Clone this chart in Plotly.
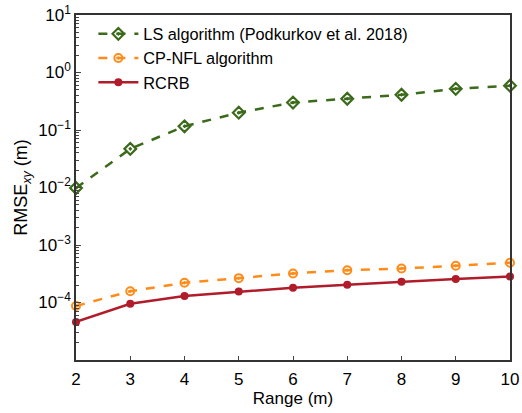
import plotly.graph_objects as go

ranges = [2, 3, 4, 5, 6, 7, 8, 9, 10]
ls_alg = [0.0098, 0.047, 0.116, 0.20, 0.30, 0.35, 0.41, 0.52, 0.59]
cp_nfl = [8.7e-5, 1.57e-4, 2.2e-4, 2.65e-4, 3.2e-4, 3.65e-4, 3.9e-4, 4.35e-4, 4.9e-4]
rcrb = [4.6e-5, 9.5e-5, 1.3e-4, 1.55e-4, 1.8e-4, 2.03e-4, 2.3e-4, 2.55e-4, 2.84e-4]

ytick_vals = [1e-4, 1e-3, 1e-2, 1e-1, 1e0, 1e1]
ytick_text = ["10<sup>−4</sup>", "10<sup>−3</sup>", "10<sup>−2</sup>",
              "10<sup>−1</sup>", "10<sup>0</sup>", "10<sup>1</sup>"]

green = "#3b6a1a"
orange = "#ff8c1a"
red = "#b01c2a"

fig = go.Figure()
fig.add_trace(go.Scatter(
    x=ranges, y=ls_alg, name="LS algorithm (Podkurkov et al. 2018)",
    mode="lines+markers", cliponaxis=False,
    line=dict(color=green, width=2.5, dash="dash"),
    marker=dict(symbol="diamond-open-dot", size=9, color=green, line=dict(width=2.2, color=green)),
))
fig.add_trace(go.Scatter(
    x=ranges, y=cp_nfl, name="CP-NFL algorithm",
    mode="lines+markers", cliponaxis=False,
    line=dict(color=orange, width=2.5, dash="dash"),
    marker=dict(symbol="circle-open-dot", size=8, color=orange, line=dict(width=2, color=orange)),
))
fig.add_trace(go.Scatter(
    x=ranges, y=rcrb, name="RCRB",
    mode="lines+markers", cliponaxis=False,
    line=dict(color=red, width=2.5),
    marker=dict(symbol="circle", size=8, color=red),
))

minor_vals = []
for e in range(-5, 1):
    for m in range(2, 10):
        minor_vals.append(m * 10 ** e)

fig.update_layout(
    width=522, height=413,
    margin=dict(l=76, r=12, t=15, b=53),
    paper_bgcolor="white", plot_bgcolor="white",
    font=dict(family="Liberation Sans, Arial, sans-serif", size=16, color="black"),
    showlegend=True,
    legend=dict(x=0.04, y=0.995, xanchor="left", yanchor="top",
                bgcolor="rgba(0,0,0,0)", font=dict(size=16.3),
                itemwidth=40, tracegroupgap=0),
    xaxis=dict(
        range=[2, 10], tickvals=ranges, ticks="inside", ticklen=4,
        showline=True, linecolor="#333", linewidth=1.5, mirror=True,
        showgrid=False, zeroline=False, automargin=False,
        tickfont=dict(size=17), ticklabelstandoff=3,
        title=dict(text="Range (m)", font=dict(size=17), standoff=4),
    ),
    yaxis=dict(
        type="log", range=[-5, 1],
        tickmode="array", tickvals=ytick_vals, ticktext=ytick_text,
        ticks="inside", ticklen=5,
        minor=dict(tickmode="array", tickvals=minor_vals, ticks="inside", ticklen=3, showgrid=False),
        showline=True, linecolor="#333", linewidth=1.5, mirror=True,
        showgrid=False, zeroline=False, automargin=False,
        tickfont=dict(size=17),
        title=dict(text="RMSE<sub><i>xy</i></sub> (m)", font=dict(size=18), standoff=6),
    ),
)

fig.write_html("out.html")
